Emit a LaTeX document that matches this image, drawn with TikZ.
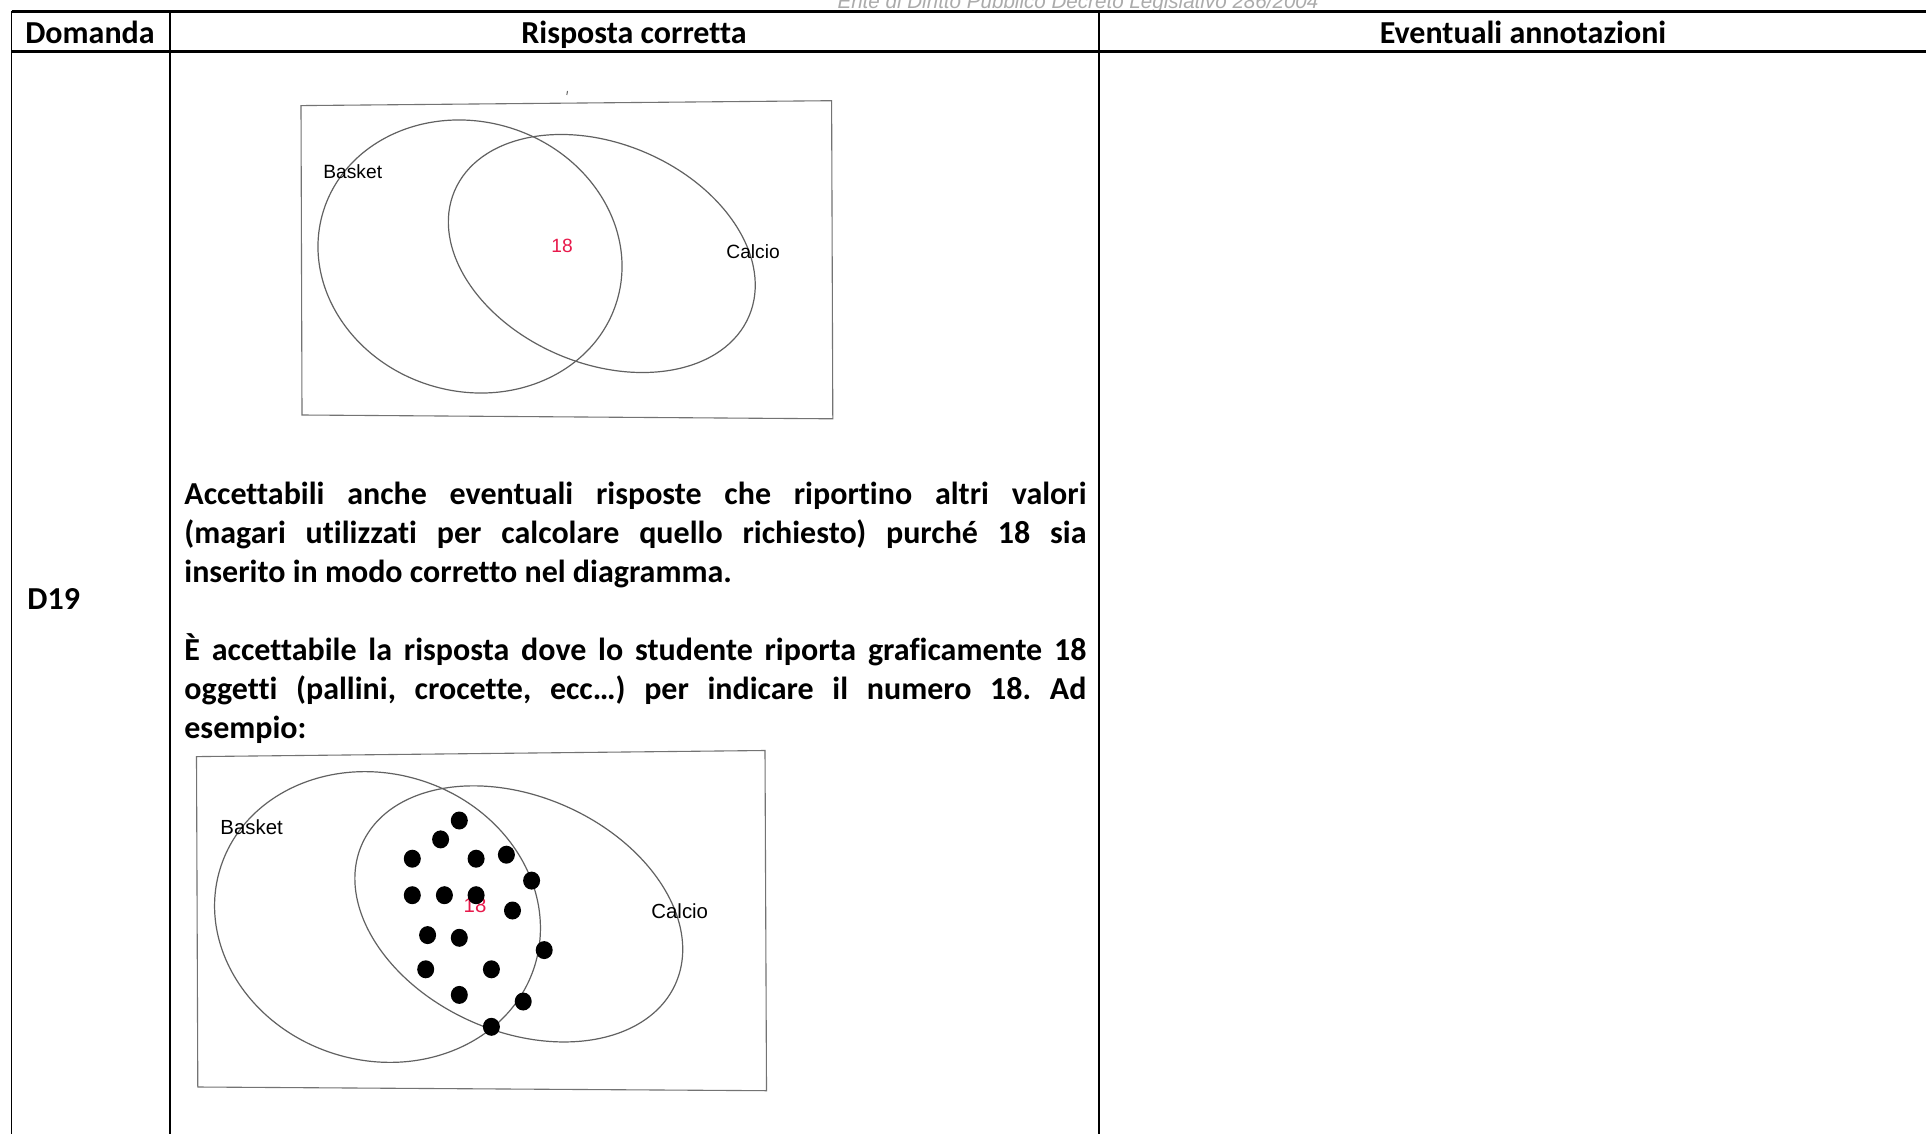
\documentclass[tikz,border=0pt]{standalone}
\usepackage{fontspec}
\setmainfont{Carlito}[Ligatures=NoCommon]
\newfontfamily\arialfont{Liberation Sans}
\begin{document}
\frenchspacing
\begin{tikzpicture}[x=0.5pt,y=-0.5pt,
  hline/.style={line width=1.25pt,black},
  vline/.style={line width=0.75pt,black},
  vennbox/.style={draw=black!55,line width=0.55pt},
  vennell/.style={draw=black!62,line width=0.6pt},
  head/.style={font=\fontsize{16pt}{19.5pt}\selectfont\bfseries,anchor=base,inner sep=0pt},
  body/.style={font=\fontsize{16pt}{19.5pt}\selectfont\bfseries,anchor=base west,inner sep=0pt},
  lab/.style={font=\arialfont\fontsize{9.6pt}{11pt}\selectfont,anchor=base west,inner sep=0pt},
  labb/.style={font=\arialfont\fontsize{10.2pt}{12pt}\selectfont,anchor=base west,inner sep=0pt},
  num/.style={font=\arialfont\fontsize{9.6pt}{11pt}\selectfont,text=redn,anchor=base,inner sep=0pt},
  dotn/.style={fill=black}
]
\definecolor{redn}{RGB}{232,25,75}
\useasboundingbox (0,0) rectangle (1926,1134);
\fill[white] (0,0) rectangle (1926,1134);

% watermark
\node[font=\arialfont\itshape\fontsize{10.3pt}{11pt}\selectfont,text=black!33,anchor=base,inner sep=0pt] (wm) at (1078,8.5) {Ente di Diritto Pubblico Decreto Legislativo 286/2004};

% table
\coordinate (tl) at (11.5,11.5);
\coordinate (tr) at (1940,11.5);
\coordinate (hl) at (11.5,51.5);
\coordinate (hr) at (1940,51.5);
\draw[hline] (tl) -- (tr);
\draw[hline] (hl) -- (hr);
\coordinate (v0a) at (11.5,11); \coordinate (v0b) at (11.5,1140);
\coordinate (v1a) at (170,11); \coordinate (v1b) at (170,1140);
\coordinate (v2a) at (1099,11); \coordinate (v2b) at (1099,1140);
\draw[vline] (v0a) -- (v0b);
\draw[vline] (v1a) -- (v1b);
\draw[vline] (v2a) -- (v2b);

\node[head] (h1) at (90,43.5) {Domanda};
\node[head] (h2) at (634,43.5) {Risposta corretta};
\node[head] (h3) at (1523,43.5) {Eventuali annotazioni};

\node[body] (d19) at (27,609) {D19};

% paragraphs
\node[body] (p1) at (184,504.5) {\hbox to 451pt{Accettabili anche eventuali risposte che riportino altri valori}};
\node[body] (p2) at (184,543.5) {\hbox to 451pt{(magari utilizzati per calcolare quello richiesto) purché 18 sia}};
\node[body] (p3) at (184,582.5) {inserito in modo corretto nel diagramma.};
\node[body] (p4) at (184,660.5) {\hbox to 451pt{È accettabile la risposta dove lo studente riporta graficamente 18}};
\node[body] (p5) at (184,699.5) {\hbox to 451pt{oggetti (pallini, crocette, ecc…) per indicare il numero 18. Ad}};
\node[body] (p6) at (184,738.5) {esempio:};

% Venn 1
\draw[vennbox] (301,105.6) -- (831.6,100.7) -- (832.8,418.8) -- (302,415) -- cycle;
\draw[line width=0.5pt,black!60] (567.5,91) -- (566.8,95);
\draw[vennell,rotate around={-17:(470,256.5)}] (470,256.5) ellipse [x radius=153.5, y radius=134.8];
\draw[vennell,rotate around={-23:(601.8,253.5)}] (601.8,253.5) ellipse [x radius=160, y radius=110];
\node[lab] (b1) at (323,179) {Basket};
\node[lab] (c1) at (726,258) {Calcio};
\node[num] (n1) at (562,252) {18};

% Venn 2
\draw[vennbox] (196.5,756.6) -- (765,750.5) -- (766.5,1090.7) -- (197.8,1087) -- cycle;
\draw[vennell,rotate around={-17:(377.5,917)}] (377.5,917) ellipse [x radius=164.6, y radius=143.4];
\draw[vennell,rotate around={-24:(518.8,913.9)}] (518.8,913.9) ellipse [x radius=171.6, y radius=117.5];
\node[labb] (b2) at (220,834) {Basket};
\node[labb] (c2) at (651,918) {Calcio};
\node[num,font=\arialfont\fontsize{10.2pt}{12pt}\selectfont] (n2) at (475,912) {18};

\foreach \px/\py in {459.3/820.5, 440.6/839.4, 412.3/858.7, 476.1/858.7, 506.4/854.7,
  531.6/880.6, 412.3/895.2, 444.4/895.2, 476.1/895.2, 512.5/910.5, 427.6/935.1,
  459.3/937.8, 544.2/950.1, 425.7/969.3, 491.4/969.3, 459.3/994.9, 523.2/1001.5, 491.4/1026.8}
  \fill[dotn] (\px,\py) ellipse [x radius=8.5, y radius=9];
\end{tikzpicture}
\end{document}
